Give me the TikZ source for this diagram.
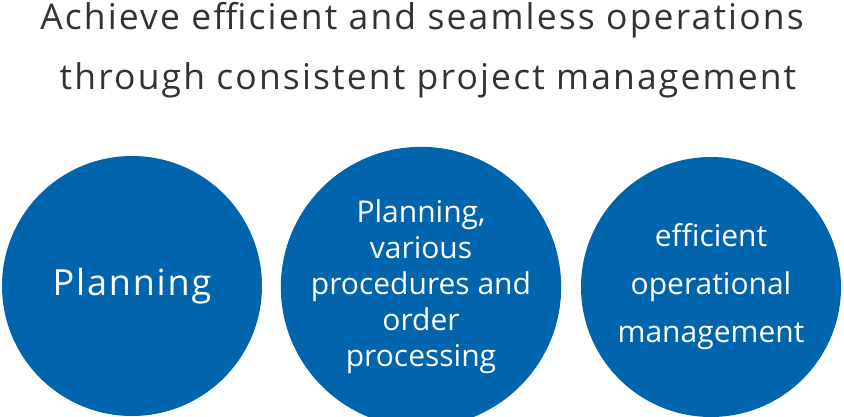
\documentclass[tikz,border=0pt]{standalone}
\usepackage{fontspec}
\setmainfont{Open Sans}
\definecolor{cblue}{HTML}{0065AC}
\definecolor{tgray}{HTML}{333333}
\begin{document}
\begin{tikzpicture}[x=1pt,y=-1pt,
  circ/.style={circle,fill=cblue,minimum size=260pt,inner sep=0pt,text=white,align=center},
  title/.style={text=tgray,font=\fontsize{35.5}{40}\selectfont\addfontfeature{LetterSpace=6}}]
\useasboundingbox (0,0) rectangle (844,416);
\node[title] (t1) at (422,20) {Achieve efficient and seamless operations};
\node[title] (t2) at (428,80) {through consistent project management};
\node[circ,font=\fontsize{36}{40}\selectfont\addfontfeature{LetterSpace=5}] (c1) at (132,286) {Planning};
\node[circ,font=\fontsize{30}{36}\selectfont] (c2) at (421,287) {Planning,\\various\\procedures and\\order\\processing};
\node[circ,font=\fontsize{30}{48}\selectfont] (c3) at (711,287) {efficient\\operational\\management};
\end{tikzpicture}
\end{document}
